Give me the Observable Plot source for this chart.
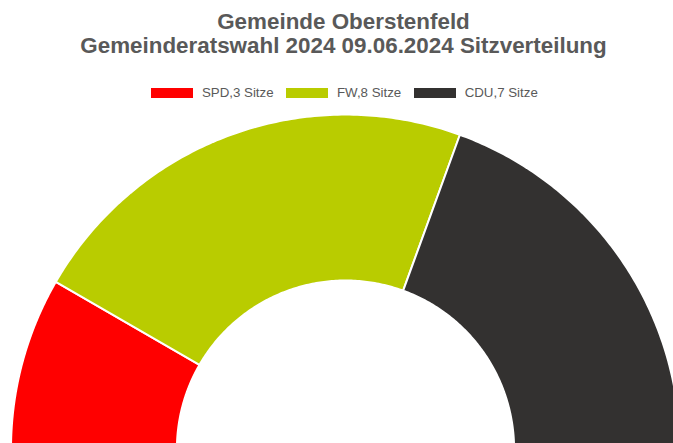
<!DOCTYPE html>
<html><head><meta charset="utf-8">
<script src="https://cdn.jsdelivr.net/npm/d3@7"></script>
<script src="https://cdn.jsdelivr.net/npm/@observablehq/plot@0.6"></script>
<style>
body{margin:0;background:#fff;font-family:"Liberation Sans",Arial,sans-serif;}
#wrap{position:relative;width:673px;height:443px;overflow:hidden;background:#fff;}
#title{position:absolute;top:10px;left:7px;width:673px;text-align:center;font-weight:bold;font-size:22.4px;line-height:23.5px;color:#595959;}
#legend{position:absolute;top:83px;left:8px;width:673px;display:flex;justify-content:center;font-size:13.3px;line-height:20px;color:#595959;}
.item{display:flex;align-items:center;}
.item + .item{margin-left:12.7px;}
.sw{width:42px;height:10px;margin-right:8.7px;}
#chart{position:absolute;top:108px;left:0;}
</style></head>
<body>
<div id="wrap">
  <div id="title"></div>
  <div id="legend"></div>
  <div id="chart"></div>
</div>
<script>
const titleLines = ["Gemeinde Oberstenfeld", "Gemeinderatswahl 2024 09.06.2024 Sitzverteilung"];
const parties = ["SPD", "FW", "CDU"];
const seats = [3, 8, 7];
const colors = ["#FF0000", "#B9CC00", "#333130"];
const seatLabel = "Sitze";

// layout
const W = 673, H = 335, CX = 345, CY = 340.6, R = 334.5, HOLE = 0.504;

d3.select("#title").html(titleLines.join("<br>"));
const items = d3.select("#legend").selectAll(".item").data(parties).join("div").attr("class", "item");
items.append("div").attr("class", "sw").style("background", (d, i) => colors[i]);
items.append("span").text((d, i) => `${d},${seats[i]} ${seatLabel}`);

const arcs = d3.pie().sort(null).startAngle(-Math.PI / 2).endAngle(Math.PI / 2)(seats);
const pts = [];
arcs.forEach((a, i) => {
  const n = 120;
  const ring = [];
  for (let k = 0; k <= n; k++) {
    const t = a.startAngle + (a.endAngle - a.startAngle) * k / n;
    ring.push({party: parties[i], x: Math.sin(t), y: Math.cos(t)});
  }
  for (let k = n; k >= 0; k--) {
    const t = a.startAngle + (a.endAngle - a.startAngle) * k / n;
    ring.push({party: parties[i], x: HOLE * Math.sin(t), y: HOLE * Math.cos(t)});
  }
  ring.push(ring[0]);
  pts.push(...ring);
});

const chart = Plot.plot({
  width: W, height: H, margin: 0,
  style: {background: "#fff", overflow: "hidden"},
  x: {domain: [-CX / R, (W - CX) / R], axis: null},
  y: {domain: [(CY - H) / R, CY / R], axis: null},
  color: {domain: parties, range: colors},
  marks: [
    Plot.line(pts, {x: "x", y: "y", z: "party", fill: "party", stroke: "white", strokeWidth: 2, strokeLinejoin: "miter", curve: "linear"})
  ]
});
document.getElementById("chart").append(chart);
</script>
</body></html>
